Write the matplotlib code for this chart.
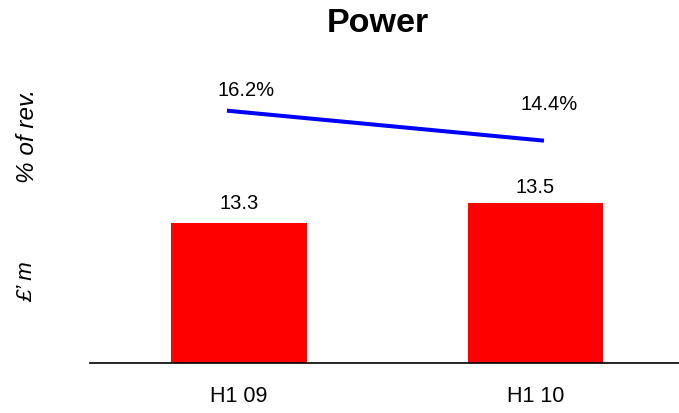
import matplotlib
matplotlib.use("Agg")
import matplotlib.pyplot as plt

plt.rcParams['font.family'] = ['Liberation Sans', 'DejaVu Sans']

periods = ["H1 09", "H1 10"]
revenue_m = [13.3, 13.5]
pct_of_rev = [16.2, 14.4]
pct_labels = ["16.2%", "14.4%"]

W, H = 679, 414
fig = plt.figure(figsize=(W / 100, H / 100), dpi=100)

# axes box in pixel terms
left_px, right_px, bottom_px, top_px = 90, 679, 364, 60
rect = [left_px / W, (H - bottom_px) / H, (right_px - left_px) / W, (bottom_px - top_px) / H]

ax = fig.add_axes(rect)
x = list(range(len(periods)))
ax.bar(x, revenue_m, width=0.458, color="#ff0000")
ax.set_xlim(-0.501, 1.4835)
ax.set_ylim(11.9, 14.94)
ax.set_xticks(x)
ax.set_xticklabels(periods, fontsize=15.5)
ax.tick_params(axis='x', length=0, pad=16)
ax.set_yticks([])
for s in ["left", "right", "top"]:
    ax.spines[s].set_visible(False)
ax.spines["bottom"].set_linewidth(1.2)

bar_offsets = [15, 12]
for xi, v, off in zip(x, revenue_m, bar_offsets):
    ax.annotate(f"{v:.1f}", (xi, v), xytext=(0, off), textcoords="offset points",
                ha="center", va="center", fontsize=14.5)

# percentage-of-revenue line on its own overlay axes
ax2 = fig.add_axes(rect, frameon=False)
ax2.plot(x, pct_of_rev, color="#0000ff", linewidth=2.9, solid_capstyle="butt")
ax2.set_xlim(-0.432, 1.426)
ax2.set_ylim(1.06, 19.3)
ax2.set_xticks([])
ax2.set_yticks([])
pct_offsets = [(14, 15), (4, 26.5)]
for xi, v, lab, off in zip(x, pct_of_rev, pct_labels, pct_offsets):
    ax2.annotate(lab, (xi, v), xytext=off, textcoords="offset points",
                 ha="center", va="center", fontsize=14.5)

fig.text(377.6 / W, 1 - 23 / H, "Power", ha="center", va="center",
         fontsize=24.5, fontweight="bold")
fig.text(27 / W, 1 - 136 / H, "% of rev.", ha="center", va="center",
         rotation=90, fontsize=17.5, style="italic")
fig.text(27 / W, 1 - 282 / H, "£\u2019 m", ha="center", va="center",
         rotation=90, fontsize=16, style="italic")

fig.savefig("out.png", dpi=100)
